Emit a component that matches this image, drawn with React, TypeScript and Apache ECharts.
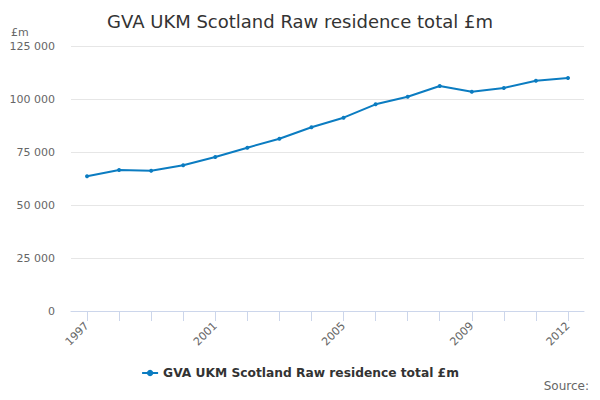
import React, { useEffect, useRef } from "react";
import * as echarts from "echarts";

const years = ["1997","1998","1999","2000","2001","2002","2003","2004","2005","2006","2007","2008","2009","2010","2011","2012"];
const values = [63540, 66510, 66180, 68720, 72640, 77030, 81280, 86650, 91180, 97500, 101080, 106130, 103440, 105190, 108650, 109910];
const seriesName = "GVA UKM Scotland Raw residence total £m";
const titleText = "GVA UKM Scotland Raw residence total £m";
const shownLabels = ["1997", "2001", "2005", "2009", "2012"];

const FONT = "DejaVu Sans";

function fmt(v: number) {
  return String(v).replace(/\B(?=(\d{3})+(?!\d))/g, " ");
}

export default function App() {
  const ref = useRef<HTMLDivElement>(null);
  useEffect(() => {
    const chart = echarts.init(ref.current!, null, { renderer: "svg" });
    chart.setOption({
      animation: false,
      textStyle: { fontFamily: FONT },
      title: {
        text: titleText,
        left: "center",
        top: 7,
        textStyle: { fontFamily: FONT, fontSize: 18, fontWeight: "normal", color: "#333333" },
      },
      graphic: [
        {
          type: "text", x: 11, y: 32,
          style: { text: "£m", fontFamily: FONT, fontSize: 11, fill: "#666666", verticalAlign: "middle", align: "left" },
        },
        {
          type: "text", x: 589, y: 386,
          style: { text: "Source:", fontFamily: FONT, fontSize: 12, fill: "#666666", verticalAlign: "middle", align: "right" },
        },
      ],
      legend: {
        bottom: 16,
        left: "center",
        itemWidth: 16,
        itemHeight: 8,
        textStyle: { fontFamily: FONT, fontSize: 12.25, fontWeight: "bold", color: "#333333" },
        data: [seriesName],
      },
      grid: { left: 71, right: 16, top: 46, bottom: 89 },
      xAxis: {
        type: "category",
        data: years,
        boundaryGap: true,
        axisLine: { lineStyle: { color: "#ccd6eb" } },
        axisTick: {
          show: true,
          alignWithLabel: true,
          interval: 0,
          length: 10,
          lineStyle: { color: "#ccd6eb", width: 1 },
        },
        axisLabel: {
          interval: (_i: number, v: string) => shownLabels.includes(v),
          rotate: 45,
          color: "#666666",
          fontSize: 11,
          fontFamily: FONT,
          margin: 13,
        },
      },
      yAxis: {
        type: "value",
        min: 0,
        max: 125000,
        interval: 25000,
        axisLine: { show: false },
        axisTick: { show: false },
        splitLine: { lineStyle: { color: "#e6e6e6" } },
        axisLabel: {
          color: "#666666",
          fontSize: 11,
          fontFamily: FONT,
          margin: 16,
          formatter: (v: number) => fmt(v),
        },
      },
      series: [
        {
          name: seriesName,
          type: "line",
          data: values,
          symbol: "circle",
          symbolSize: 4,
          lineStyle: { width: 2, color: "#0b7cc1" },
          itemStyle: { color: "#0b7cc1" },
        },
      ],
    });
    return () => chart.dispose();
  }, []);
  return <div ref={ref} style={{ width: 600, height: 400, margin: -8 }} />;
}
